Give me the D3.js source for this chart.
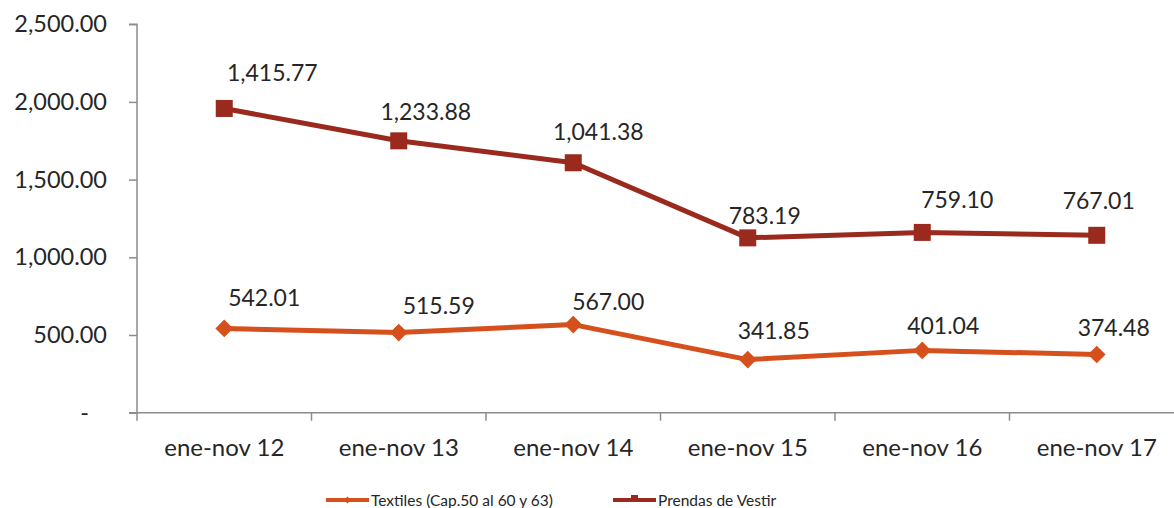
<!DOCTYPE html>
<html><head><meta charset="utf-8">
<script src="https://cdn.jsdelivr.net/npm/d3@7"></script>
<style>body{margin:0;background:#fff}svg{display:block}text{font-family:Lato,"Open Sans",sans-serif;fill:#262626}</style>
</head><body><svg id="c" width="1174" height="508"></svg>
<script>
const categories = ["ene-nov 12","ene-nov 13","ene-nov 14","ene-nov 15","ene-nov 16","ene-nov 17"];
const textiles = [542.01, 515.59, 567.00, 341.85, 401.04, 374.48];
const prendas = [1415.77, 1233.88, 1041.38, 783.19, 759.10, 767.01];
const yTicks = [0, 500, 1000, 1500, 2000, 2500];
const seriesNames = ["Textiles (Cap.50 al 60 y 63)", "Prendas de Vestir"];

// layout-only nudges of the data labels (as placed in the original)
const labelNudgeT = [[40,-31],[40,-28],[35,-24],[26,-30],[21,-25],[17,-28]];
const labelNudgeP = [[48,-36],[27,-30],[25,-32],[17,-23],[35,-33],[2,-35]];

const svg = d3.select("#c");
const colT = "#D5501C", colP = "#9A2A1E";
const x = d3.scaleBand().domain(categories).range([137, 137 + 6*174.5]).paddingInner(0).paddingOuter(0);
const y = d3.scaleLinear().domain([0, 2500]).range([412.7, 24.2]);
const fmt = d3.format(",.2f");

// axes
const yAxis = svg.append("g").attr("transform","translate(137,0)")
  .call(d3.axisLeft(y).tickValues(yTicks).tickSize(8).tickPadding(22)
    .tickFormat(d => d === 0 ? "-\u00a0\u00a0\u00a0" : fmt(d)));
yAxis.select(".domain").attr("d", `M-8,${y(2500)}H0V${y(0)}`);
const xAxis = svg.append("g").attr("transform",`translate(0,${y(0)})`)
  .call(d3.axisBottom(x).tickSize(0).tickPadding(26));
xAxis.select(".domain").attr("d", `M129,0H1174`);
xAxis.selectAll(".tick line").remove();
xAxis.selectAll(".xt").data(d3.range(7)).enter().append("line")
  .attr("x1", i => 137 + i*x.step()).attr("x2", i => 137 + i*x.step())
  .attr("y1", 0).attr("y2", 8);
svg.selectAll(".domain, .tick line").attr("stroke","#8c8c8c").attr("stroke-width",1.5);
xAxis.selectAll("line").attr("stroke","#8c8c8c").attr("stroke-width",1.5);
yAxis.selectAll(".tick text").attr("font-size",23.5).attr("fill","#262626").style("font-family","Lato, sans-serif");
xAxis.selectAll(".tick text").attr("font-size",24).attr("fill","#262626").style("font-family","Lato, sans-serif");

const cx = d => x(d) + x.bandwidth()/2;
const stacked = prendas.map((v,i) => v + textiles[i]);

const line = d3.line().x(d => cx(d[0])).y(d => y(d[1]));
const tData = categories.map((c,i) => [c, textiles[i]]);
const pData = categories.map((c,i) => [c, stacked[i]]);

svg.append("path").datum(tData).attr("d", line).attr("fill","none").attr("stroke",colT).attr("stroke-width",5).attr("stroke-linejoin","round");
svg.append("path").datum(pData).attr("d", line).attr("fill","none").attr("stroke",colP).attr("stroke-width",5).attr("stroke-linejoin","round");

const diamond = d3.symbol().type(d3.symbolDiamond2).size(200);
svg.selectAll(".mt").data(tData).enter().append("path")
  .attr("d", diamond).attr("transform", d => `translate(${cx(d[0])},${y(d[1])})`)
  .attr("fill", colT);
svg.selectAll(".mp").data(pData).enter().append("rect")
  .attr("x", d => cx(d[0]) - 8.5).attr("y", d => y(d[1]) - 8.5).attr("width",17).attr("height",17)
  .attr("fill", colP);

// data labels
svg.selectAll(".lt").data(tData).enter().append("text")
  .attr("x", (d,i) => cx(d[0]) + labelNudgeT[i][0]).attr("y", (d,i) => y(d[1]) + labelNudgeT[i][1])
  .attr("text-anchor","middle").attr("dominant-baseline","central").attr("font-size",23)
  .text((d,i) => fmt(textiles[i]));
svg.selectAll(".lp").data(pData).enter().append("text")
  .attr("x", (d,i) => cx(d[0]) + labelNudgeP[i][0]).attr("y", (d,i) => y(d[1]) + labelNudgeP[i][1])
  .attr("text-anchor","middle").attr("dominant-baseline","central").attr("font-size",23)
  .text((d,i) => fmt(prendas[i]));

// legend
const leg = [{n: seriesNames[0], c: colT, x: 326, sym: "d"}, {n: seriesNames[1], c: colP, x: 613, sym: "s"}];
const lg = svg.selectAll(".lg").data(leg).enter().append("g").attr("transform", d => `translate(${d.x},500)`);
lg.append("line").attr("x1",0).attr("x2",43).attr("stroke", d => d.c).attr("stroke-width",4);
lg.filter(d => d.sym === "d").append("path").attr("d", d3.symbol().type(d3.symbolDiamond2).size(30)).attr("transform","translate(21.5,0)").attr("fill", d => d.c);
lg.filter(d => d.sym === "s").append("rect").attr("x",18).attr("y",-5).attr("width",7).attr("height",7).attr("fill", d => d.c);
lg.append("text").attr("x",45).attr("dominant-baseline","central").attr("font-size",15.5)
  .text(d => d.n);
</script></body></html>
